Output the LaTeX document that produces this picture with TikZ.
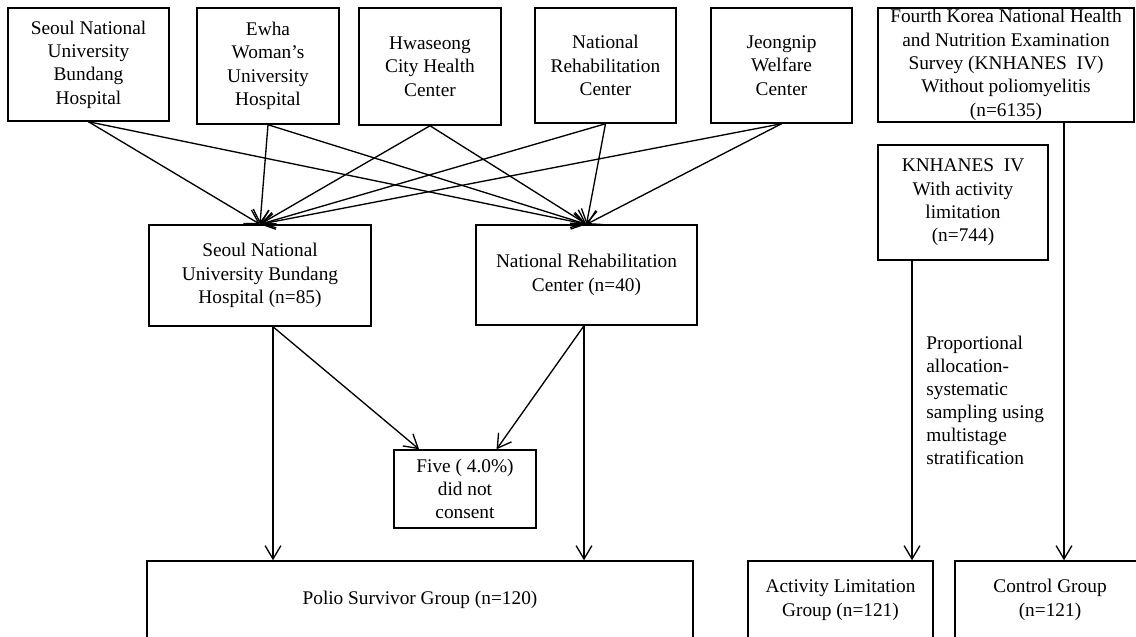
\documentclass[tikz,border=0pt]{standalone}
\usepackage{fontspec}
\setmainfont{Liberation Serif}
\usetikzlibrary{arrows.meta,calc}
\tikzset{
  box/.style={draw, line width=0.9pt, align=center, inner sep=0pt, font=\fontsize{11.6}{14}\selectfont},
  wh/.style 2 args={minimum width=#1*0.6pt, minimum height=#2*0.6pt},
  arr/.style={line width=0.8pt, -{Straight Barb[length=8pt,width=9.5pt]}}
}

\begin{document}
\begin{tikzpicture}[x=0.6pt,y=-0.6pt]
  \useasboundingbox (0,0) rectangle (1136,636);
  \clip (0,0) rectangle (1136,636);
  %%%%% recruiting sites %%%%%
  \node[box, wh={161}{113}] (snubh) at (88.5,64.5) {Seoul National\\University\\Bundang\\Hospital};
  \node[box, wh={142}{116}] (ewha) at (268,66) {Ewha\\Woman's\\University\\Hospital};
  \node[box, wh={142}{117}] (hwaseong) at (430,66.5) {Hwaseong\\City Health\\Center};
  \node[box, wh={141}{115}] (nrc) at (605.5,65.5) {National\\Rehabilitation\\Center};
  \node[box, wh={141}{115}] (jeongnip) at (781.5,65.5) {Jeongnip\\Welfare\\Center};

  %%%%% survey %%%%%
  \node[box, wh={256}{114}] (knhanes) at (1006,65) {Fourth Korea National Health\\and Nutrition Examination\\Survey (KNHANES~ IV)\\Without poliomyelitis\\(n=6135)};
  \node[box, wh={170}{115}] (knhanesAL) at (963,202.5) {KNHANES~ IV\\With activity\\limitation\\(n=744)};

  %%%%% study sites %%%%%
  \node[box, wh={222}{101}] (snubhN) at (260,275.5) {Seoul National\\University Bundang\\Hospital (n=85)};
  \node[box, wh={221}{100}] (nrcN) at (586.5,275) {National Rehabilitation\\Center (n=40)};
  \node[box, wh={142}{78}] (refused) at (465,489) {Five ( 4.0\%)\\did not\\consent};

  %%%%% groups %%%%%
  \node[box, wh={546}{78}] (polio) at (420,600) {Polio Survivor Group (n=120)};
  \node[box, wh={185}{78}] (actlim) at (840.5,600) {Activity Limitation\\Group (n=121)};
  \node[box, wh={190}{78}] (control) at (1050,600) {Control Group\\(n=121)};

  \node[anchor=west, align=left, inner sep=0pt, font=\fontsize{11.6}{13.8}\selectfont] (sampling) at (926,400)
    {Proportional\\allocation-\\systematic\\sampling using\\multistage\\stratification};

  %%%%% connectors %%%%%
  \foreach \s in {snubh,ewha,hwaseong,nrc,jeongnip}{
    \draw[arr] (\s.south) -- (snubhN.north);
    \draw[arr] (\s.south) -- (nrcN.north);
  }

  \coordinate (hx) at (273,0);
  \coordinate (ix) at (584,0);
  \draw[arr] (snubhN.south -| hx) -- (polio.north -| hx);
  \draw[arr] (snubhN.south -| hx) -- ($(refused.north west)!0.18!(refused.north east)$);
  \draw[arr] (nrcN.south -| ix) -- (polio.north -| ix);
  \draw[arr] (nrcN.south -| ix) -- ($(refused.north west)!0.72!(refused.north east)$);

  \coordinate (gx) at (912,0);
  \coordinate (fx) at (1064,0);
  \draw[arr] (knhanesAL.south -| gx) -- (actlim.north -| gx);
  \draw[arr] (knhanes.south -| fx) -- (control.north -| fx);
\end{tikzpicture}
\end{document}
